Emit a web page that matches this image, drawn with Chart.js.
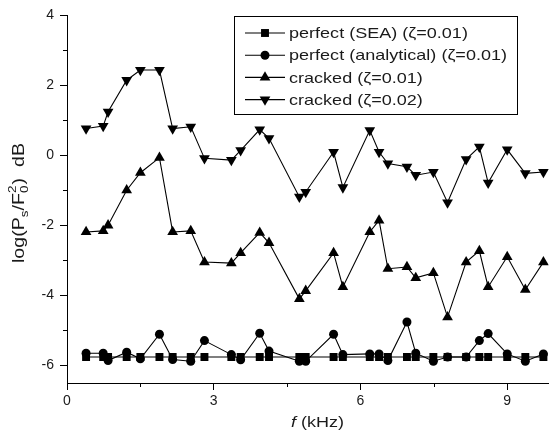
<!DOCTYPE html>
<html>
<head>
<meta charset="utf-8">
<script src="https://cdn.jsdelivr.net/npm/chart.js@4.4.0/dist/chart.umd.min.js"></script>
<style>
  html, body { margin: 0; padding: 0; background: #fff; }
</style>
</head>
<body>
<canvas id="chart" width="555" height="432"></canvas>
<script>
// frequency of each computed mode (kHz)
const freq = [0.39, 0.74, 0.84, 1.22, 1.50, 1.89, 2.16, 2.53, 2.81, 3.36,
              3.55, 3.94, 4.13, 4.75, 4.88, 5.45, 5.64, 6.19, 6.38, 6.56,
              6.95, 7.13, 7.49, 7.78, 8.16, 8.43, 8.61, 9.00, 9.37, 9.74];

const perfectSea = [-5.76, -5.76, -5.76, -5.76, -5.76, -5.76, -5.76, -5.76, -5.76, -5.76,
                    -5.76, -5.76, -5.76, -5.76, -5.76, -5.76, -5.76, -5.76, -5.76, -5.76,
                    -5.76, -5.76, -5.76, -5.76, -5.76, -5.76, -5.76, -5.76, -5.76, -5.76];

const perfectAnalytical = [-5.65, -5.65, -5.86, -5.62, -5.81, -5.11, -5.83, -5.88, -5.29, -5.69,
                           -5.84, -5.08, -5.59, -5.88, -5.88, -5.11, -5.69, -5.67, -5.67, -5.86,
                           -4.76, -5.65, -5.88, -5.76, -5.76, -5.29, -5.09, -5.67, -5.88, -5.67];

const cracked001 = [-2.19, -2.16, -2.00, -1.00, -0.50, -0.07, -2.19, -2.16, -3.05, -3.08,
                    -2.79, -2.21, -2.50, -4.10, -3.87, -2.79, -3.76, -2.19, -1.86, -3.24,
                    -3.19, -3.50, -3.36, -4.62, -3.05, -2.73, -3.76, -2.90, -3.84, -3.05];

const cracked002 = [0.76, 0.83, 1.24, 2.14, 2.43, 2.43, 0.76, 0.81, -0.09, -0.14,
                    0.14, 0.73, 0.48, -1.19, -1.05, 0.09, -0.92, 0.71, 0.09, -0.24,
                    -0.33, -0.57, -0.48, -1.35, -0.12, 0.24, -0.79, 0.16, -0.52, -0.48];

const seriesLabels = ['perfect (SEA) (\u03B6=0.01)', 'perfect (analytical) (\u03B6=0.01)',
                      'cracked (\u03B6=0.01)', 'cracked (\u03B6=0.02)'];

const xTicks = [0, 3, 6, 9];
const yTicks = [-6, -4, -2, 0, 2, 4];
const xMinorTicks = [1.5, 4.5, 7.5];
const yMinorTicks = [-5, -3, -1, 1, 3];

const FONT = '"Liberation Sans", Arial, sans-serif';
const TEXT = '#1a1a1a';
const markers = [
    { pointStyle: 'rect', radius: 5.6, rotation: 0 },
    { pointStyle: 'circle', radius: 4.5, rotation: 0 },
    { pointStyle: 'triangle', radius: 6.2, rotation: 0 },
    { pointStyle: 'triangle', radius: 6.2, rotation: 180 }
];

function toPoints(values) {
    return freq.map((f, i) => ({ x: f, y: values[i] }));
}

function makeDataset(label, values, m, order) {
    return {
        label: label,
        data: toPoints(values),
        showLine: true,
        borderColor: '#000',
        borderWidth: 1.1,
        backgroundColor: '#000',
        pointBackgroundColor: '#000',
        pointBorderColor: '#000',
        pointBorderWidth: 0,
        pointStyle: m.pointStyle,
        pointRadius: m.radius,
        pointRotation: m.rotation,
        order: order
    };
}

// text in the source figure is a bit wider than the font, so stretch it horizontally
function stretchedText(ctx, text, x, y, sx) {
    ctx.save();
    ctx.translate(x, y);
    ctx.scale(sx, 1);
    ctx.fillText(text, 0, 0);
    ctx.restore();
    return ctx.measureText(text).width * sx;
}

const extras = {
    id: 'extras',
    afterDraw(chart) {
        const ctx = chart.ctx;
        const xs = chart.scales.x, ys = chart.scales.y;
        ctx.save();
        ctx.strokeStyle = '#000';
        ctx.lineWidth = 1;

        // minor ticks
        ctx.beginPath();
        xMinorTicks.forEach(v => {
            const px = Math.round(xs.getPixelForValue(v)) + 0.5;
            ctx.moveTo(px, ys.bottom);
            ctx.lineTo(px, ys.bottom + 4);
        });
        yMinorTicks.forEach(v => {
            const py = Math.round(ys.getPixelForValue(v)) + 0.5;
            ctx.moveTo(xs.left, py);
            ctx.lineTo(xs.left - 4, py);
        });
        ctx.stroke();

        // legend box
        const bx = 234.5, by = 16.5, bw = 283, bh = 98;
        ctx.fillStyle = '#fff';
        ctx.fillRect(bx, by, bw, bh);
        ctx.strokeRect(bx, by, bw, bh);
        ctx.font = '15px ' + FONT;
        ctx.textBaseline = 'middle';
        const longest = ctx.measureText(seriesLabels[1]).width;
        const sx = 218 / longest;
        seriesLabels.forEach((lab, i) => {
            const y = 33 + i * 22.2;
            ctx.beginPath();
            ctx.lineWidth = 1.1;
            ctx.moveTo(245, y);
            ctx.lineTo(285, y);
            ctx.stroke();
            ctx.fillStyle = '#000';
            Chart.helpers.drawPoint(ctx, { pointStyle: markers[i].pointStyle, radius: markers[i].radius,
                rotation: markers[i].rotation, borderWidth: 0 }, 265, y);
            ctx.fillStyle = TEXT;
            stretchedText(ctx, lab, 289, y + 1, sx);
        });

        // x title with italic f
        ctx.fillStyle = TEXT;
        ctx.textBaseline = 'alphabetic';
        const xsx = 1.2;
        ctx.font = 'italic 15px ' + FONT;
        const wA = ctx.measureText('f').width * xsx;
        ctx.font = '15px ' + FONT;
        const wB = ctx.measureText(' (kHz)').width * xsx;
        const x0 = 317.5 - (wA + wB) / 2;
        ctx.font = 'italic 15px ' + FONT;
        stretchedText(ctx, 'f', x0, 427, xsx);
        ctx.font = '15px ' + FONT;
        stretchedText(ctx, ' (kHz)', x0 + wA, 427, xsx);

        // y title log(Ps/F0^2) dB, rotated
        ctx.translate(23.5, 203);
        ctx.rotate(-Math.PI / 2);
        const big = '16px ' + FONT, small = '11px ' + FONT;
        const pieces = [
            { t: 'log(P', f: big, dy: 0 },
            { t: 's', f: small, dy: 4 },
            { t: '/F', f: big, dy: 0 },
            { t: '0', f: small, dy: 4, stack: '2' },
            { t: ')  dB', f: big, dy: 0 }
        ];
        let total = 0;
        pieces.forEach(p => { ctx.font = p.f; p.w = ctx.measureText(p.t).width + (p.stack ? 1 : 0); total += p.w; });
        const ysx = 120 / total;
        let cx = -120 / 2;
        pieces.forEach(p => {
            ctx.font = p.f;
            stretchedText(ctx, p.t, cx, p.dy, ysx);
            if (p.stack) stretchedText(ctx, p.stack, cx, -8, ysx);
            cx += p.w * ysx;
        });
        ctx.restore();
    }
};

new Chart(document.getElementById('chart'), {
    type: 'scatter',
    data: {
        datasets: [
            makeDataset(seriesLabels[0], perfectSea, markers[0], 2),
            makeDataset(seriesLabels[1], perfectAnalytical, markers[1], 1),
            makeDataset(seriesLabels[2], cracked001, markers[2], 0),
            makeDataset(seriesLabels[3], cracked002, markers[3], 0)
        ]
    },
    options: {
        responsive: false,
        animation: false,
        devicePixelRatio: 1,
        layout: { padding: { top: 15, right: 0, left: 0, bottom: 0 } },
        plugins: { legend: { display: false }, tooltip: { enabled: false } },
        scales: {
            x: {
                type: 'linear',
                min: 0,
                max: 9.85,
                afterBuildTicks: s => { s.ticks = xTicks.map(v => ({ value: v })); },
                afterFit: s => { s.height = 49; },
                grid: { drawOnChartArea: false, color: '#000', tickLength: 7, tickWidth: 1 },
                border: { color: '#000', width: 1 },
                ticks: { color: TEXT, font: { family: FONT, size: 14 }, padding: 3, maxRotation: 0 }
            },
            y: {
                type: 'linear',
                min: -6.5,
                max: 4,
                afterBuildTicks: s => { s.ticks = yTicks.map(v => ({ value: v })); },
                afterFit: s => { s.width = 67; },
                grid: { drawOnChartArea: false, color: '#000', tickLength: 7, tickWidth: 1 },
                border: { color: '#000', width: 1 },
                ticks: { color: TEXT, font: { family: FONT, size: 14 }, padding: 6 }
            }
        }
    },
    plugins: [extras]
});
</script>
</body>
</html>
